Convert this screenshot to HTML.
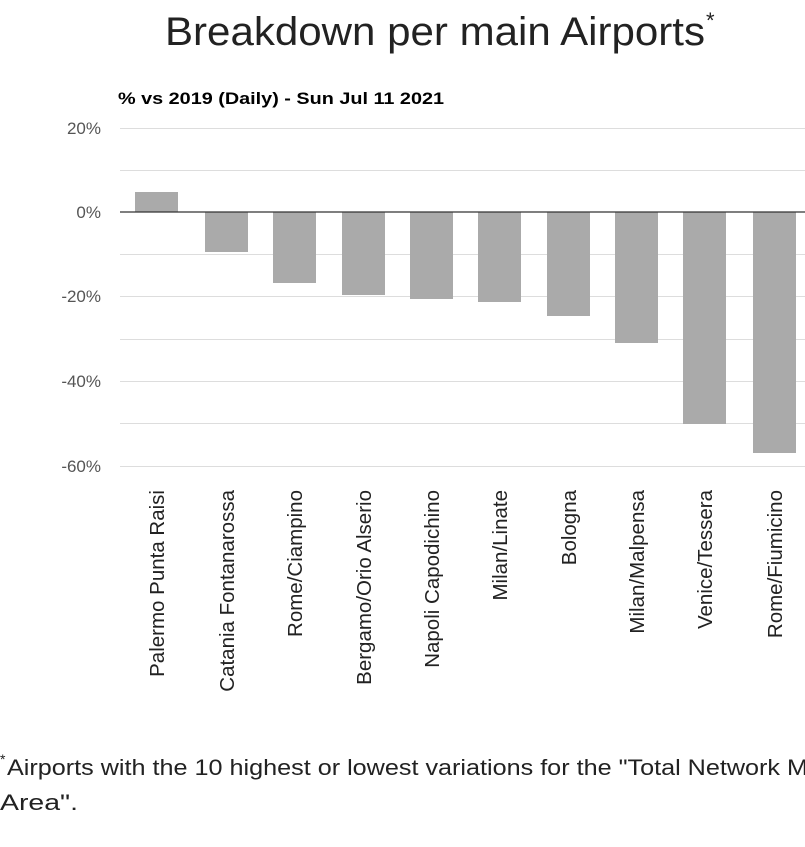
<!DOCTYPE html>
<html><head><meta charset="utf-8"><style>
html,body{margin:0;padding:0;background:#fff;width:805px;height:847px;overflow:hidden}
</style></head><body>
<svg width="805" height="847" xmlns="http://www.w3.org/2000/svg" font-family="Liberation Sans, sans-serif">
<text x="165" y="45" font-size="40" textLength="540" lengthAdjust="spacingAndGlyphs" fill="#222">Breakdown per main Airports</text>
<text x="706" y="28" font-size="22" fill="#222">*</text>
<text x="118" y="104" font-size="17" font-weight="bold" fill="#000" textLength="326" lengthAdjust="spacingAndGlyphs">% vs 2019 (Daily) - Sun Jul 11 2021</text>
<g stroke="#ddd" stroke-width="1">
<line x1="120" x2="805" y1="128.5" y2="128.5"/>
<line x1="120" x2="805" y1="170.5" y2="170.5"/>
<line x1="120" x2="805" y1="254.5" y2="254.5"/>
<line x1="120" x2="805" y1="296.5" y2="296.5"/>
<line x1="120" x2="805" y1="339.5" y2="339.5"/>
<line x1="120" x2="805" y1="381.5" y2="381.5"/>
<line x1="120" x2="805" y1="423.5" y2="423.5"/>
<line x1="120" x2="805" y1="466.5" y2="466.5"/>
</g>
<g font-size="17" fill="#555" text-anchor="end">
<text x="101" y="134">20%</text>
<text x="101" y="218">0%</text>
<text x="101" y="302">-20%</text>
<text x="101" y="387">-40%</text>
<text x="101" y="472">-60%</text>
</g>
<g fill="#aaa">
<rect x="135" y="192" width="43" height="20"/>
<rect x="205" y="212" width="43" height="40"/>
<rect x="273" y="212" width="43" height="71"/>
<rect x="342" y="212" width="43" height="83"/>
<rect x="410" y="212" width="43" height="87"/>
<rect x="478" y="212" width="43" height="90"/>
<rect x="547" y="212" width="43" height="104"/>
<rect x="615" y="212" width="43" height="131"/>
<rect x="683" y="212" width="43" height="212"/>
<rect x="753" y="212" width="43" height="241"/>
</g>
<line x1="120" x2="805" y1="212" y2="212" stroke="#333" stroke-width="1.2"/>
<g font-size="20.5" fill="#222" text-anchor="end">
<text transform="translate(164,490) rotate(-90)">Palermo Punta Raisi</text>
<text transform="translate(234,490) rotate(-90)">Catania Fontanarossa</text>
<text transform="translate(302,490) rotate(-90)">Rome/Ciampino</text>
<text transform="translate(371,490) rotate(-90)">Bergamo/Orio Alserio</text>
<text transform="translate(439,490) rotate(-90)">Napoli Capodichino</text>
<text transform="translate(507,490) rotate(-90)">Milan/Linate</text>
<text transform="translate(576,490) rotate(-90)">Bologna</text>
<text transform="translate(644,490) rotate(-90)">Milan/Malpensa</text>
<text transform="translate(712,490) rotate(-90)">Venice/Tessera</text>
<text transform="translate(782,490) rotate(-90)">Rome/Fiumicino</text>
</g>
<text x="0" y="764" font-size="14" fill="#222">*</text>
<text x="7" y="775" font-size="22.5" fill="#222" textLength="815" lengthAdjust="spacingAndGlyphs">Airports with the 10 highest or lowest variations for the "Total Network Ma</text>
<text x="0" y="810" font-size="22.5" fill="#222" textLength="78" lengthAdjust="spacingAndGlyphs">Area".</text>
</svg>
</body></html>
